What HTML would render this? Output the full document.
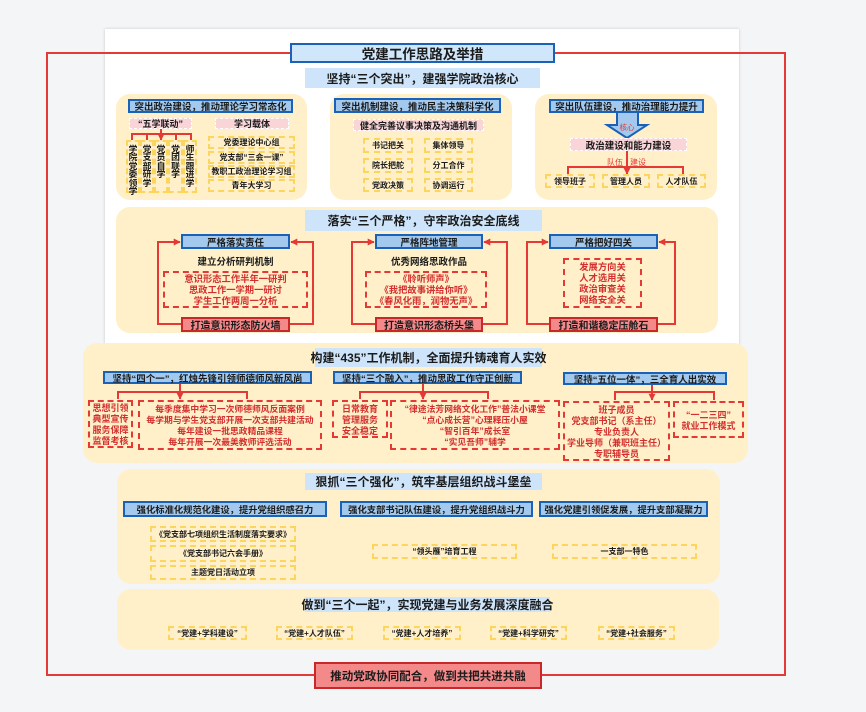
<!DOCTYPE html>
<html><head><meta charset="utf-8">
<style>
*{margin:0;padding:0;box-sizing:border-box}
body{width:866px;height:712px;background:#f4f5f7;position:relative;overflow:hidden;font-family:"Liberation Sans","Noto Sans CJK SC",sans-serif;font-weight:bold;color:#1b1b1b}
.a{position:absolute;display:flex;align-items:center;justify-content:center;text-align:center;white-space:nowrap}
.card{position:absolute;left:105px;top:29px;width:634px;height:320px;background:#fff;box-shadow:0 0 3px rgba(0,0,0,.18)}
.y{position:absolute;background:#fff0c9;border-radius:14px}
.t{background:#cde4fa;font-size:12px}
.h{background:#a3caee;border:2px solid #1a62b7;font-size:9.5px}
.p{background:#f9d5d8;border:1.5px dashed #fff;font-size:9px}
.d{border:2px dashed #fcd55f;font-size:8px}
.r{border:2px dashed #e53935;color:#d32f2f;font-size:9px;flex-direction:column}
.r>div{height:11px;line-height:11px;position:relative;top:1px}
.rb{background:#f4898a;border:2px solid #c8282a;font-size:10px}
.v{flex-direction:column;font-size:8.8px;justify-content:flex-start;padding-top:2px}
.v>div{height:8.4px;line-height:8.4px;position:relative;top:1px}
.rt{color:#e53935;font-weight:normal;font-size:8px}
svg{position:absolute;left:0;top:0}
</style></head><body>

<div class="card"></div>

<!-- yellow containers -->
<div class="y" style="left:116px;top:94px;width:191px;height:106px"></div>
<div class="y" style="left:330px;top:94px;width:182px;height:106px"></div>
<div class="y" style="left:535px;top:94px;width:182px;height:106px"></div>
<div class="y" style="left:116px;top:207px;width:602px;height:126px"></div>
<div class="y" style="left:83px;top:343px;width:665px;height:120px"></div>
<div class="y" style="left:117px;top:469px;width:603px;height:115px"></div>
<div class="y" style="left:117px;top:589px;width:602px;height:61px"></div>

<svg width="866" height="712">
<defs><marker id="m" viewBox="0 0 10 10" refX="9" refY="5" markerWidth="7" markerHeight="7" markerUnits="userSpaceOnUse" orient="auto"><path d="M0,0L10,5L0,10z" fill="#e53935"/></marker></defs>
<g fill="none" stroke="#e53935" stroke-width="2">
<path d="M290,53H47V675H314 M542,675H785V53H555"/>
<path d="M132,140V134H191V140 M147,134V140 M176,134V140"/>
<path d="M161,129V140" marker-end="url(#m)"/>
<path d="M568,174V167H683V174"/>
<path d="M627,151V174" marker-end="url(#m)"/>
<path d="M181,324H158V242H180" marker-end="url(#m)"/>
<path d="M290,324H313V242H291" marker-end="url(#m)"/>
<path d="M375,324H352V242H374" marker-end="url(#m)"/>
<path d="M483,324H507V242H484" marker-end="url(#m)"/>
<path d="M549,324H527V242H548" marker-end="url(#m)"/>
<path d="M658,324H675V242H659" marker-end="url(#m)"/>
<path d="M118,399V392H247V399"/>
<path d="M180,383V399" marker-end="url(#m)"/>
<path d="M360,399V392H488V399"/>
<path d="M423,383V399" marker-end="url(#m)"/>
<path d="M615,400V392H714V400"/>
<path d="M652,384V400" marker-end="url(#m)"/>
</g>
<polygon points="617,112 638,112 638,125 647,125 627,138 607,125 617,125" fill="#a3caee" stroke="#1a62b7" stroke-width="2"/>
</svg>

<!-- title -->
<div class="a" style="left:290px;top:43px;width:265px;height:20px;background:#cfe6fb;border:2px solid #1a62b7;font-size:13.5px">党建工作思路及举措</div>
<div class="a t" style="left:305px;top:68px;width:235px;height:20px">坚持“三个突出”，建强学院政治核心</div>

<!-- section 1 A -->
<div class="a h" style="left:128px;top:99px;width:165px;height:14px">突出政治建设，推动理论学习常态化</div>
<div class="a p" style="left:129px;top:118px;width:63px;height:11px">“五学联动”</div>
<div class="a p" style="left:215px;top:118px;width:74px;height:11px">学习载体</div>
<div class="a d v" style="left:126px;top:140px;width:14px;height:53px"><div>学</div><div>院</div><div>党</div><div>委</div><div>领</div><div>学</div></div>
<div class="a d v" style="left:140px;top:140px;width:14px;height:53px"><div>党</div><div>支</div><div>部</div><div>研</div><div>学</div></div>
<div class="a d v" style="left:154px;top:140px;width:14px;height:53px"><div>党</div><div>员</div><div>自</div><div>学</div></div>
<div class="a d v" style="left:168px;top:140px;width:15px;height:53px"><div>党</div><div>团</div><div>联</div><div>学</div></div>
<div class="a d v" style="left:183px;top:140px;width:14px;height:53px"><div>师</div><div>生</div><div>跟</div><div>进</div><div>学</div></div>
<div class="a d" style="left:208px;top:136px;width:87px;height:13px">党委理论中心组</div>
<div class="a d" style="left:208px;top:151px;width:87px;height:13px">党支部“三会一课”</div>
<div class="a d" style="left:208px;top:165px;width:87px;height:13px">教职工政治理论学习组</div>
<div class="a d" style="left:208px;top:179px;width:87px;height:13px">青年大学习</div>

<!-- section 1 B -->
<div class="a h" style="left:334px;top:98px;width:167px;height:15px">突出机制建设，推动民主决策科学化</div>
<div class="a p" style="left:353px;top:119px;width:131px;height:12px">健全完善议事决策及沟通机制</div>
<div class="a d" style="left:363px;top:138px;width:50px;height:15px">书记把关</div>
<div class="a d" style="left:424px;top:138px;width:49px;height:15px">集体领导</div>
<div class="a d" style="left:363px;top:158px;width:50px;height:15px">院长把舵</div>
<div class="a d" style="left:424px;top:158px;width:49px;height:15px">分工合作</div>
<div class="a d" style="left:363px;top:178px;width:50px;height:14px">党政决策</div>
<div class="a d" style="left:424px;top:178px;width:49px;height:14px">协调运行</div>

<!-- section 1 C -->
<div class="a h" style="left:549px;top:99px;width:155px;height:14px">突出队伍建设，推动治理能力提升</div>
<div class="a" style="left:617px;top:123px;width:20px;height:9px;color:#e53935;font-size:7.5px;font-weight:normal">核心</div>
<div class="a p" style="left:570px;top:138px;width:117px;height:13px;font-size:9.5px">政治建设和能力建设</div>
<div class="a rt" style="left:606px;top:157px;width:18px;height:10px">队伍</div>
<div class="a rt" style="left:629px;top:157px;width:18px;height:10px">建设</div>
<div class="a d" style="left:545px;top:174px;width:50px;height:14px">领导班子</div>
<div class="a d" style="left:602px;top:174px;width:48px;height:14px">管理人员</div>
<div class="a d" style="left:657px;top:174px;width:49px;height:14px">人才队伍</div>

<!-- section 2 -->
<div class="a t" style="left:305px;top:210px;width:237px;height:21px">落实“三个严格”，守牢政治安全底线</div>
<div class="a h" style="left:181px;top:234px;width:109px;height:15px">严格落实责任</div>
<div class="a" style="left:181px;top:254px;width:109px;height:14px;font-size:9.5px">建立分析研判机制</div>
<div class="a r" style="left:163px;top:271px;width:145px;height:37px;font-size:9.3px"><div>意识形态工作半年一研判</div><div>思政工作一学期一研讨</div><div>学生工作两周一分析</div></div>
<div class="a rb" style="left:181px;top:317px;width:109px;height:15px">打造意识形态防火墙</div>

<div class="a h" style="left:375px;top:234px;width:108px;height:15px">严格阵地管理</div>
<div class="a" style="left:375px;top:254px;width:108px;height:14px;font-size:9.5px">优秀网络思政作品</div>
<div class="a r" style="left:365px;top:271px;width:122px;height:37px;font-size:9.3px"><div>《聆听师声》</div><div>《我把故事讲给你听》</div><div>《春风化雨，润物无声》</div></div>
<div class="a rb" style="left:375px;top:317px;width:108px;height:15px">打造意识形态桥头堡</div>

<div class="a h" style="left:549px;top:234px;width:109px;height:15px">严格把好四关</div>
<div class="a r" style="left:563px;top:258px;width:79px;height:50px;font-size:9.3px"><div>发展方向关</div><div>人才选用关</div><div>政治审查关</div><div>网络安全关</div></div>
<div class="a rb" style="left:549px;top:317px;width:109px;height:15px">打造和谐稳定压舱石</div>

<!-- section 3 -->
<div class="a t" style="left:315px;top:348px;width:227px;height:19px">构建“435”工作机制，全面提升铸魂育人实效</div>
<div class="a h" style="left:103px;top:371px;width:209px;height:13px">坚持“四个一”，红烛先锋引领师德师风新风尚</div>
<div class="a h" style="left:333px;top:371px;width:189px;height:13px">坚持“三个融入”，推动思政工作守正创新</div>
<div class="a h" style="left:563px;top:372px;width:164px;height:13px">坚持“五位一体”，三全育人出实效</div>
<div class="a r" style="left:88px;top:400px;width:45px;height:48px"><div>思想引领</div><div>典型宣传</div><div>服务保障</div><div>监督考核</div></div>
<div class="a r" style="left:138px;top:400px;width:184px;height:50px;font-size:8.8px"><div>每季度集中学习一次师德师风反面案例</div><div>每学期与学生党支部开展一次支部共建活动</div><div>每年建设一批思政精品课程</div><div>每年开展一次最美教师评选活动</div></div>
<div class="a r" style="left:332px;top:400px;width:56px;height:38px"><div>日常教育</div><div>管理服务</div><div>安全稳定</div></div>
<div class="a r" style="left:390px;top:400px;width:170px;height:50px;font-size:8.8px"><div>“律途法芳网络文化工作”普法小课堂</div><div>“点心成长营”心理释压小屋</div><div>“智引百年”成长室</div><div>“实见吾师”辅学</div></div>
<div class="a r" style="left:563px;top:401px;width:107px;height:60px"><div>班子成员</div><div>党支部书记（系主任）</div><div>专业负责人</div><div>学业导师（兼职班主任）</div><div>专职辅导员</div></div>
<div class="a r" style="left:673px;top:401px;width:71px;height:37px"><div>“一二三四”</div><div>就业工作模式</div></div>

<!-- section 4 -->
<div class="a t" style="left:305px;top:473px;width:237px;height:17px">狠抓“三个强化”，筑牢基层组织战斗堡垒</div>
<div class="a h" style="left:123px;top:501px;width:204px;height:16px;font-size:9.3px">强化标准化规范化建设，提升党组织感召力</div>
<div class="a h" style="left:340px;top:501px;width:193px;height:16px;font-size:9.3px">强化支部书记队伍建设，提升党组织战斗力</div>
<div class="a h" style="left:539px;top:501px;width:169px;height:16px;font-size:9.3px">强化党建引领促发展，提升支部凝聚力</div>
<div class="a d" style="left:150px;top:526px;width:146px;height:16px">《党支部七项组织生活制度落实要求》</div>
<div class="a d" style="left:150px;top:545px;width:146px;height:17px">《党支部书记六会手册》</div>
<div class="a d" style="left:150px;top:565px;width:146px;height:15px">主题党日活动立项</div>
<div class="a d" style="left:372px;top:544px;width:145px;height:15px">“领头雁”培育工程</div>
<div class="a d" style="left:552px;top:544px;width:145px;height:15px">一支部一特色</div>

<!-- section 5 -->
<div class="a t" style="left:305px;top:597px;width:245px;height:15px">做到“三个一起”，实现党建与业务发展深度融合</div>
<div class="a d" style="left:168px;top:626px;width:79px;height:14px">“党建+学科建设”</div>
<div class="a d" style="left:276px;top:626px;width:77px;height:14px">“党建+人才队伍”</div>
<div class="a d" style="left:383px;top:626px;width:78px;height:14px">“党建+人才培养”</div>
<div class="a d" style="left:490px;top:626px;width:77px;height:14px">“党建+科学研究”</div>
<div class="a d" style="left:598px;top:626px;width:77px;height:14px">“党建+社会服务”</div>

<div class="a rb" style="left:314px;top:662px;width:228px;height:27px;font-size:11.5px">推动党政协同配合，做到共把共进共融</div>

</body></html>
